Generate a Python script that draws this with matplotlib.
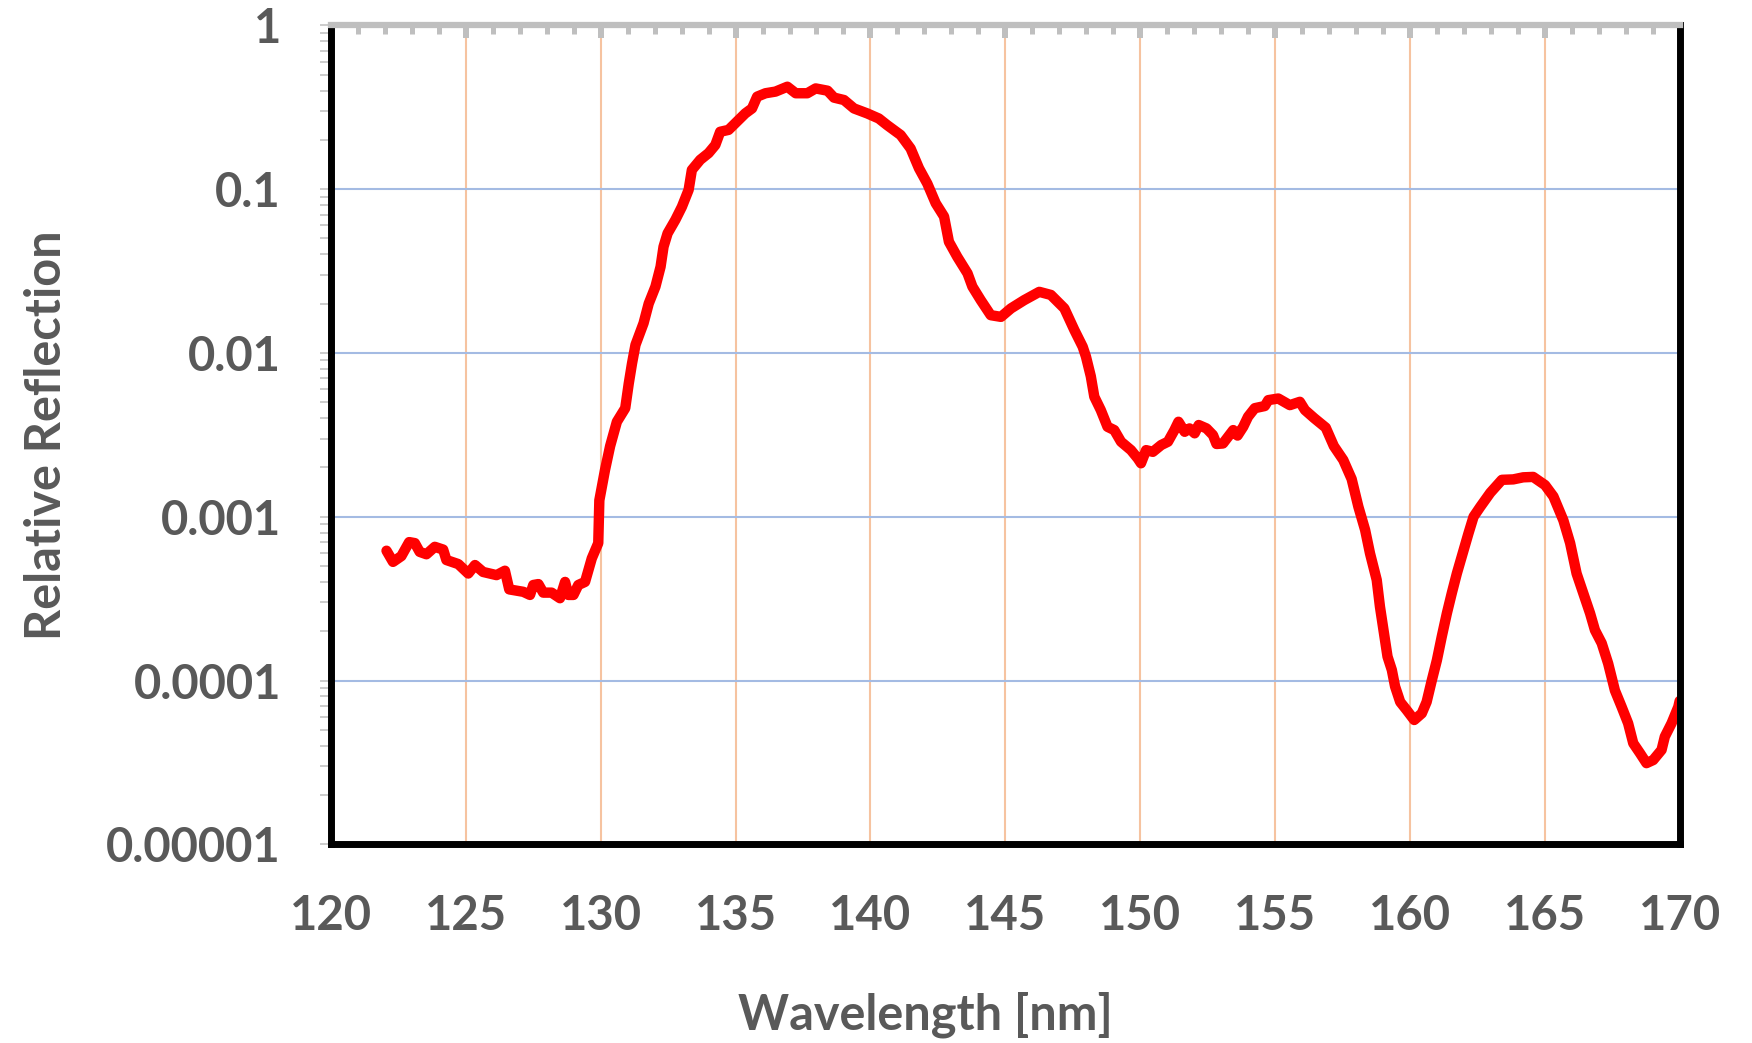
import matplotlib
matplotlib.use("Agg")
import matplotlib.pyplot as plt
from matplotlib.ticker import FixedLocator, MultipleLocator, LogLocator, NullFormatter

# ---- data ----
wavelength = [
    122.06, 122.30, 122.61, 122.90, 123.11, 123.29, 123.54, 123.85, 124.16, 124.28,
    124.72, 125.09, 125.34, 125.64, 126.14, 126.45, 126.61, 127.13, 127.38, 127.50,
    127.69, 127.87, 128.18, 128.49, 128.68, 128.80, 128.99, 129.17, 129.42, 129.67,
    129.91, 129.95, 130.16, 130.35, 130.60, 130.91, 131.04, 131.16, 131.29, 131.59,
    131.78, 132.03, 132.22, 132.33, 132.48, 132.77, 133.01, 133.26, 133.38, 133.69,
    134.00, 134.25, 134.43, 134.74, 135.05, 135.36, 135.61, 135.80, 136.11, 136.48,
    136.92, 137.23, 137.66, 137.97, 138.41, 138.65, 139.02, 139.39, 139.88, 140.31,
    140.62, 141.12, 141.49, 141.80, 142.11, 142.42, 142.73, 142.91, 143.22, 143.60,
    143.78, 144.09, 144.46, 144.84, 145.21, 145.70, 146.26, 146.69, 147.19, 147.56,
    147.87, 147.99, 148.17, 148.30, 148.54, 148.79, 149.04, 149.29, 149.66, 149.91,
    150.03, 150.22, 150.47, 150.78, 151.03, 151.27, 151.42, 151.65, 151.83, 152.02,
    152.17, 152.46, 152.70, 152.83, 153.07, 153.26, 153.45, 153.61, 153.82, 154.00,
    154.25, 154.62, 154.75, 155.12, 155.55, 155.92, 156.11, 156.45, 156.88, 157.18,
    157.53, 157.84, 158.09, 158.34, 158.52, 158.77, 158.89, 159.04, 159.17, 159.33,
    159.45, 159.64, 159.88, 160.16, 160.44, 160.62, 160.81, 161.00, 161.18, 161.37,
    161.55, 161.74, 161.99, 162.17, 162.36, 162.61, 162.98, 163.41, 163.83, 164.20,
    164.57, 165.01, 165.32, 165.69, 165.94, 166.18, 166.43, 166.68, 166.86, 167.11,
    167.35, 167.60, 167.85, 168.09, 168.28, 168.53, 168.77, 169.02, 169.33, 169.45,
    169.70, 169.95, 170.00,
]
reflection = [
    6.2e-4, 5.3e-4, 5.75e-4, 7.0e-4, 6.9e-4, 6.1e-4, 5.9e-4, 6.55e-4, 6.3e-4, 5.44e-4,
    5.14e-4, 4.5e-4, 5.07e-4, 4.6e-4, 4.4e-4, 4.68e-4, 3.6e-4, 3.48e-4, 3.33e-4, 3.83e-4,
    3.88e-4, 3.44e-4, 3.44e-4, 3.18e-4, 4.0e-4, 3.33e-4, 3.33e-4, 3.83e-4, 4.0e-4, 5.57e-4,
    6.9e-4, 1.26e-3, 1.93e-3, 2.7e-3, 3.8e-3, 4.6e-3, 6.5e-3, 8.6e-3, 1.12e-2, 1.52e-2,
    2.0e-2, 2.54e-2, 3.36e-2, 4.45e-2, 5.37e-2, 6.5e-2, 7.8e-2, 9.9e-2, 0.131, 0.151,
    0.166, 0.186, 0.224, 0.230, 0.258, 0.290, 0.311, 0.367, 0.385, 0.394,
    0.422, 0.385, 0.385, 0.412, 0.399, 0.362, 0.350, 0.311, 0.290, 0.270,
    0.246, 0.214, 0.177, 0.134, 0.108, 0.082, 0.068, 0.0477, 0.0386, 0.0306,
    0.0254, 0.021, 0.017, 0.0166, 0.0187, 0.021, 0.0236, 0.0226, 0.0187, 0.0138,
    0.0109, 9.5e-3, 7.2e-3, 5.4e-3, 4.48e-3, 3.54e-3, 3.38e-3, 2.87e-3, 2.55e-3, 2.27e-3,
    2.12e-3, 2.55e-3, 2.49e-3, 2.74e-3, 2.87e-3, 3.38e-3, 3.8e-3, 3.3e-3, 3.46e-3, 3.23e-3,
    3.63e-3, 3.46e-3, 3.15e-3, 2.78e-3, 2.8e-3, 3.08e-3, 3.38e-3, 3.13e-3, 3.54e-3, 4.08e-3,
    4.6e-3, 4.74e-3, 5.15e-3, 5.27e-3, 4.8e-3, 5.03e-3, 4.48e-3, 4.0e-3, 3.5e-3, 2.7e-3,
    2.22e-3, 1.7e-3, 1.15e-3, 8.3e-4, 5.98e-4, 4.11e-4, 2.82e-4, 1.94e-4, 1.40e-4, 1.16e-4,
    9.2e-5, 7.4e-5, 6.6e-5, 5.74e-5, 6.3e-5, 7.4e-5, 1.0e-4, 1.33e-4, 1.85e-4, 2.57e-4,
    3.4e-4, 4.5e-4, 6.26e-4, 7.9e-4, 1.0e-3, 1.15e-3, 1.4e-3, 1.68e-3, 1.69e-3, 1.74e-3,
    1.75e-3, 1.56e-3, 1.33e-3, 9.5e-4, 6.9e-4, 4.5e-4, 3.4e-4, 2.57e-4, 2.03e-4, 1.69e-4,
    1.27e-4, 8.7e-5, 6.9e-5, 5.48e-5, 4.14e-5, 3.6e-5, 3.13e-5, 3.27e-5, 3.77e-5, 4.54e-5,
    5.48e-5, 6.9e-5, 7.5e-5,
]
x_ticks = [120, 125, 130, 135, 140, 145, 150, 155, 160, 165, 170]
x_ticklabels = ["120", "125", "130", "135", "140", "145", "150", "155", "160", "165", "170"]
y_ticks = [1e-5, 1e-4, 1e-3, 1e-2, 1e-1, 1]
y_ticklabels = ["0.00001", "0.0001", "0.001", "0.01", "0.1", "1"]
x_label = "Wavelength [nm]"
y_label = "Relative Reflection"

# ---- style ----
plt.rcParams["font.family"] = ["Lato", "DejaVu Sans"]
TXT = "#595959"
GRAY = "#bfbfbf"

fig = plt.figure(figsize=(17.52, 10.43), dpi=100)
ax = fig.add_axes([0.1889, 0.1905, 0.7698, 0.7852])

ax.plot(wavelength, reflection, color="#ff0000", lw=7.5,
        solid_joinstyle="round", solid_capstyle="round", zorder=2)

ax.set_yscale("log")
ax.set_xlim(120, 170)
ax.set_ylim(1e-5, 1)

ax.xaxis.set_major_locator(FixedLocator(x_ticks))
ax.set_xticklabels(x_ticklabels)
ax.xaxis.set_minor_locator(MultipleLocator(1))
ax.yaxis.set_major_locator(FixedLocator(y_ticks))
ax.set_yticklabels(y_ticklabels)
ax.yaxis.set_minor_locator(LogLocator(base=10, subs=range(2, 10)))
ax.yaxis.set_minor_formatter(NullFormatter())

ax.grid(True, axis="x", which="major", color="#F6C3A0", lw=1.5, zorder=1)
ax.grid(True, axis="y", which="major", color="#A4BBE3", lw=1.5, zorder=1)

# x axis: gray ticks at top pointing inward, labels at bottom
ax.tick_params(axis="x", which="major", top=True, bottom=False, direction="in",
               length=9.5, width=4.3, color=GRAY, labelbottom=True, labeltop=False,
               pad=36, labelsize=34, labelcolor=TXT)
ax.tick_params(axis="x", which="minor", top=True, bottom=False, direction="in",
               length=6.5, width=3.6, color=GRAY)
# y axis: gray ticks on the left pointing outward
ax.tick_params(axis="y", which="both", left=True, right=False, direction="out",
               length=8, width=1.1, color=GRAY)
ax.tick_params(axis="y", which="major", pad=28, labelsize=34, labelcolor=TXT)
for lab in ax.get_xticklabels() + ax.get_yticklabels():
    lab.set_fontweight("bold")

for side in ("left", "bottom", "right"):
    ax.spines[side].set_color("black")
    ax.spines[side].set_linewidth(5)
    ax.spines[side].set_zorder(3)
ax.spines["top"].set_color(GRAY)
ax.spines["top"].set_linewidth(4.5)
ax.spines["top"].set_zorder(3)

ax.set_xlabel(x_label, fontsize=35, fontweight="bold", color=TXT, va="center")
ax.set_ylabel(y_label, fontsize=35, fontweight="bold", color=TXT, va="center")
ax.xaxis.set_label_coords(0.4406, -0.2076)
ax.yaxis.set_label_coords(-0.211, 0.50)

fig.savefig("out.png", dpi=100, facecolor="white")
